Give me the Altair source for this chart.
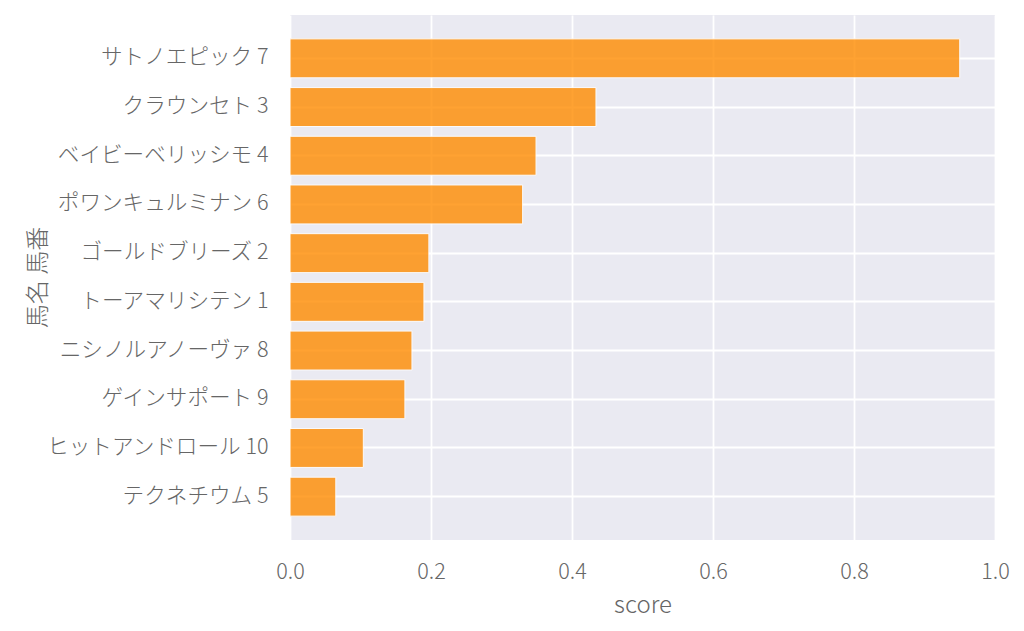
import altair as alt
import pandas as pd

horses = ["サトノエピック 7", "クラウンセト 3", "ベイビーベリッシモ 4", "ポワンキュルミナン 6",
          "ゴールドブリーズ 2", "トーアマリシテン 1", "ニシノルアノーヴァ 8", "ゲインサポート 9",
          "ヒットアンドロール 10", "テクネチウム 5"]
scores = [0.950, 0.434, 0.349, 0.330, 0.197, 0.190, 0.173, 0.163, 0.104, 0.065]

df = pd.DataFrame({"horse": horses, "score": scores})

FONT = "'Noto Sans CJK JP Light', 'Noto Sans CJK JP DemiLight', 'Noto Sans CJK JP'"
TXT = "#666666"

chart = alt.Chart(df).mark_bar(
    color="#ff8c00", opacity=0.8, stroke="white", strokeWidth=1
).encode(
    x=alt.X("score:Q", title="score",
            scale=alt.Scale(domain=[0, 1], nice=False, zero=True),
            axis=alt.Axis(values=[0, 0.2, 0.4, 0.6, 0.8, 1.0], format=".1f",
                          grid=True, gridColor="white", gridWidth=1.8,
                          domain=False, ticks=False, tickSize=0,
                          labelFontSize=21.6, labelFont=FONT, labelFontWeight=300,
                          labelColor=TXT, labelBaseline="alphabetic", labelPadding=38,
                          labelFlush=False,
                          titleFontSize=24, titleFont=FONT, titleFontWeight=300,
                          titleColor=TXT, titleBaseline="alphabetic", titleY=72)),
    y=alt.Y("horse:N", title="馬名 馬番", sort=horses,
            scale=alt.Scale(paddingInner=0.2, paddingOuter=0.49),
            axis=alt.Axis(grid=True, gridColor="white", gridWidth=1.8, bandPosition=0.5,
                          domain=False, ticks=False, tickSize=0,
                          labelFontSize=21.6, labelFont=FONT, labelFontWeight=300,
                          labelColor=TXT, labelPadding=22, labelLimit=400,
                          titleFontSize=24, titleFont=FONT, titleFontWeight=300,
                          titleColor=TXT, titleBaseline="middle", titleAngle=-90,
                          titleX=-252, titleY=262, titleAlign="center")),
).properties(
    width=705, height=525,
    background="white",
    autosize=alt.AutoSizeParams(type="none"),
    padding={"left": 282, "top": 7, "right": 21, "bottom": 83},
).configure_view(
    fill="#EAEAF2", stroke=None
)

chart.save("out.html", embed_options={"renderer": "svg", "actions": False})
